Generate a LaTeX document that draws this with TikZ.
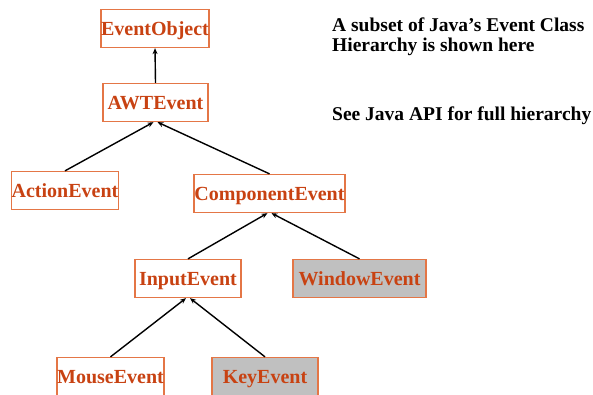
\documentclass[tikz,border=0pt]{standalone}
\usepackage{fontspec}
\setmainfont{Liberation Serif}
\usetikzlibrary{arrows.meta}
\definecolor{clsred}{RGB}{200,66,18}
\definecolor{clsedge}{RGB}{228,118,70}
\definecolor{clsgray}{RGB}{192,192,192}
\begin{document}
\begin{tikzpicture}[x=1pt,y=-1pt,
  cls/.style={draw=clsedge, line width=1.3pt, text=clsred, font=\fontsize{20}{22}\selectfont\bfseries,
    minimum height=38pt, inner sep=0pt, text height=18.4pt, text depth=4pt, anchor=center},
  shaded/.style={cls, fill=clsgray},
  inherit/.style={draw=black, line width=1.4pt, -{Stealth[length=6pt,width=5pt]}},
  note/.style={anchor=base west, align=left, inner sep=0pt, font=\fontsize{19.5}{20.7}\selectfont\bfseries}]
  \useasboundingbox (0,0) rectangle (593,394);

  % class boxes
  \node[cls, minimum width=106pt] (obj)  at (155,28.5) {EventObject};
  \node[cls, minimum width=105pt] (awt)  at (155.5,102.5) {AWTEvent};
  \node[cls, minimum width=106pt] (act)  at (65,190.5) {ActionEvent};
  \node[cls, minimum width=151pt] (comp) at (269.5,193.5) {ComponentEvent};
  \node[cls, minimum width=106pt] (inp)  at (188,278.5) {InputEvent};
  \node[shaded, minimum width=133pt] (win) at (359.5,278.5) {WindowEvent};
  \node[cls, minimum width=107pt] (mouse) at (110.5,376.5) {MouseEvent};
  \node[shaded, minimum width=106pt] (key) at (265,376.5) {KeyEvent};

  % inheritance links, child to parent
  \draw[inherit] (awt.north) -- (obj.south);
  \draw[inherit] (act.north) -- ([xshift=-2pt]awt.south);
  \draw[inherit] (comp.north) -- ([xshift=2pt]awt.south);
  \draw[inherit] (inp.north) -- ([xshift=-2pt]comp.south);
  \draw[inherit] (win.north) -- ([xshift=2pt]comp.south);
  \draw[inherit] (mouse.north) -- ([xshift=-2pt]inp.south);
  \draw[inherit] (key.north) -- ([xshift=2pt]inp.south);

  % side notes (base west of a two-line node sits on its last line)
  \node[note] (n1) at (332,51.7) {A subset of Java’s Event Class\\Hierarchy is shown here};
  \node[note] (n2) at (332,120) {See Java API for full hierarchy};
\end{tikzpicture}
\end{document}
